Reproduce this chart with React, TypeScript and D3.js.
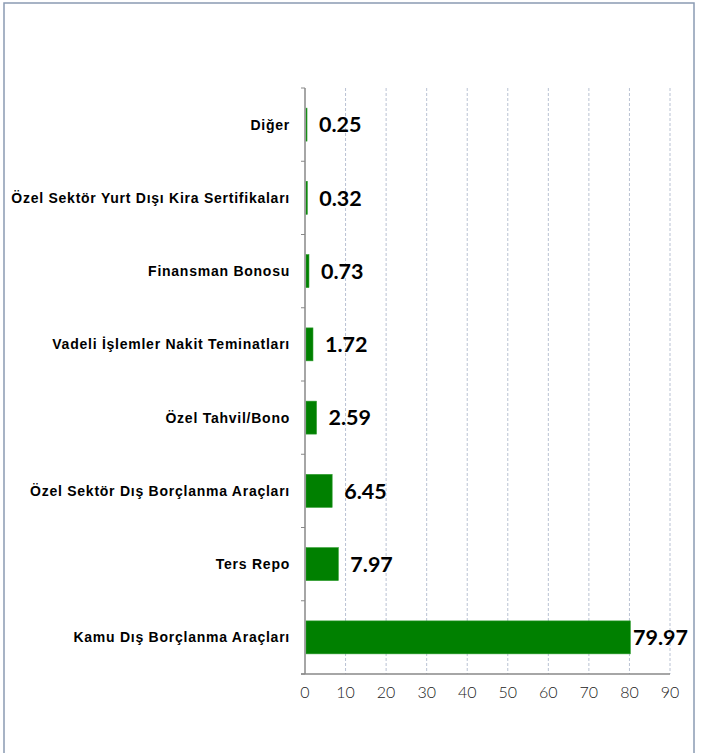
import React from "react";
import * as d3 from "d3";

const categories = [
  "Diğer",
  "Özel Sektör Yurt Dışı Kira Sertifikaları",
  "Finansman Bonosu",
  "Vadeli İşlemler Nakit Teminatları",
  "Özel Tahvil/Bono",
  "Özel Sektör Dış Borçlanma Araçları",
  "Ters Repo",
  "Kamu Dış Borçlanma Araçları",
];
const values = [0.25, 0.32, 0.73, 1.72, 2.59, 6.45, 7.97, 79.97];
const xTicks = [0, 10, 20, 30, 40, 50, 60, 70, 80, 90];

const width = 701;
const height = 753;
const margin = { top: 88, right: 31, bottom: 79, left: 305 };

export default function App() {
  const x = d3
    .scaleLinear()
    .domain([0, 90])
    .range([margin.left, width - margin.right]);
  const y = d3
    .scaleBand()
    .domain(categories)
    .range([margin.top, height - margin.bottom])
    .paddingInner(0.55)
    .paddingOuter(0.275);
  const step = y.step();
  const bottom = height - margin.bottom;
  const boundaries = d3.range(categories.length + 1).map((i) => margin.top + i * step);

  return (
    <svg
      width={width}
      height={height}
      style={{ position: "absolute", left: 0, top: 0, background: "#fff" }}
    >
      <rect x={4} y={3} width={690} height={height + 10} fill="#fff" stroke="#8a9bb3" strokeWidth={1.5} />

      {/* vertical grid */}
      {xTicks.slice(1).map((t) => (
        <line
          key={"g" + t}
          x1={x(t)}
          x2={x(t)}
          y1={margin.top}
          y2={bottom}
          stroke="#b9c2d3"
          strokeWidth={1}
          strokeDasharray="3,2"
        />
      ))}

      {/* bars */}
      {values.map((v, i) => (
        <rect
          key={"b" + i}
          x={x(0) + 1}
          y={y(categories[i])}
          width={Math.max(0, x(v) - x(0))}
          height={y.bandwidth()}
          fill="#008000"
          stroke="#2a9a2a"
          strokeWidth={0.6}
        />
      ))}

      {/* y axis */}
      <line x1={x(0)} x2={x(0)} y1={margin.top} y2={bottom} stroke="#888" strokeWidth={1.5} />
      {boundaries.map((b, i) => (
        <line key={"yt" + i} x1={x(0) - 4} x2={x(0)} y1={b} y2={b} stroke="#888" strokeWidth={1} />
      ))}
      {/* x axis */}
      <line x1={x(0) - 4} x2={x(90)} y1={bottom} y2={bottom} stroke="#888" strokeWidth={1.5} />
      {xTicks.map((t) => (
        <text
          key={"xt" + t}
          x={x(t)}
          y={bottom + 24}
          textAnchor="middle"
          fontFamily="Lato, 'Open Sans', sans-serif"
          fontWeight={300}
          fontSize={16}
          fill="#222"
        >
          {t}
        </text>
      ))}

      {/* category labels */}
      {categories.map((c) => (
        <text
          key={"c" + c}
          x={x(0) - 15}
          y={(y(c) as number) + y.bandwidth() / 2}
          dy="0.35em"
          textAnchor="end"
          fontFamily="'Liberation Sans', Arial, sans-serif"
          fontWeight="bold"
          fontSize={14}
          letterSpacing={0.75}
          fill="#000"
        >
          {c}
        </text>
      ))}

      {/* value labels */}
      {values.map((v, i) => {
        const sx = x(v) + 13;
        const overflow = sx + 58 > width - 12;
        return (
          <text
            key={"v" + i}
            x={overflow ? width - 13 : sx}
            y={(y(categories[i]) as number) + y.bandwidth() / 2}
            dy="0.36em"
            textAnchor={overflow ? "end" : "start"}
            fontFamily="Lato, 'Open Sans', sans-serif"
            fontWeight="bold"
            fontSize={21.5}
            fill="#000"
          >
            {v.toFixed(2)}
          </text>
        );
      })}
    </svg>
  );
}
